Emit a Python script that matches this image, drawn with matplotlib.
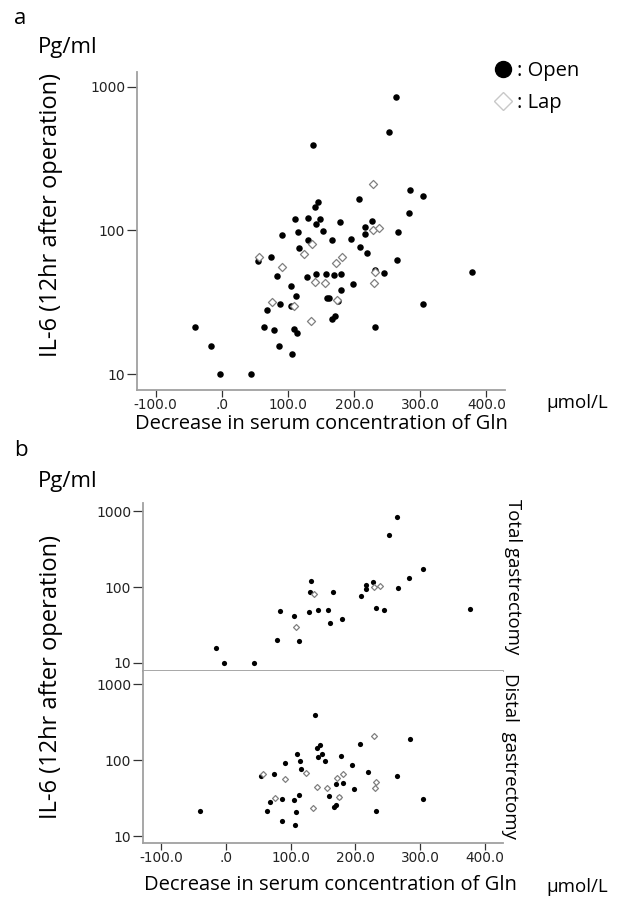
import matplotlib
matplotlib.use("Agg")
import matplotlib.pyplot as plt
from matplotlib.lines import Line2D
from matplotlib.ticker import NullLocator, FixedLocator, FixedFormatter

# ---------------- data (decrease in Gln [umol/L], IL-6 [pg/ml]) ----------------
total_open_x = [-15.5, -2.5, 43.5, 79.5, 84, 105, 113.5, 131, 130, 129, 142, 158,
                161.5, 166, 180, 209, 216.5, 216, 227.7, 231.5, 244.8, 252.2,
                263.6, 265.6, 283.5, 304.6, 377.6]
total_open_y = [15.7, 10, 10, 20.3, 48, 41.2, 19.4, 122, 85.5, 47.6, 49.7, 49.7,
                33.6, 86.5, 38.4, 76.8, 105.3, 94.2, 116.8, 53.2, 50.6, 487,
                852, 97, 131.6, 174.7, 51.7]

distal_open_x = [-40.4, 54.5, 74.2, 90.9, 68, 64.1, 87.4, 86.9, 110.6, 114.6, 116.2,
                 105, 112.6, 108.6, 106.6, 137.9, 140.4, 145.5, 142.4, 149, 153.5,
                 169.7, 180.3, 178.3, 159, 175, 167.2, 170.7, 195, 198, 207.6,
                 219.2, 232.3, 264.6, 284.8, 304]
distal_open_y = [21.2, 61.2, 64.9, 92.8, 28, 21.2, 30.7, 15.6, 120.6, 97.3, 75.7,
                 29.8, 34.7, 20.5, 13.9, 396, 145, 157, 111, 120.6, 98.4,
                 49, 49.6, 113.8, 34, 32.2, 24.2, 25.3, 87.5, 42.2, 165,
                 70.2, 21.4, 62.6, 192.4, 30.7]

total_lap_x = [109, 136, 228.5, 237.7]
total_lap_y = [29.8, 80.4, 101, 104]

distal_lap_x = [57, 91, 75.6, 124.4, 141, 155.7, 135, 172, 181, 174.3, 229, 231.5, 230.2]
distal_lap_y = [65.6, 55.6, 31.7, 68.6, 44.1, 43.1, 23.3, 58.9, 65.3, 32.7, 210, 51.1, 43.1]

x_ticks = [-100, 0, 100, 200, 300, 400]
x_tick_labels = ["-100.0", ".0", "100.0", "200.0", "300.0", "400.0"]
y_ticks = [10, 100, 1000]
y_tick_labels = ["10", "100", "1000"]
panel_labels = ["a", "b"]
group_labels = ["Total gastrectomy", "Distal  gastrectomy"]
legend_labels = [": Open", ": Lap"]

LABEL_FONT = "Open Sans"
TICK_FONT = "DejaVu Sans"
SPINE_C = "#a0a0a0"

W, H = 620, 900
fig = plt.figure(figsize=(W / 100, H / 100), dpi=100)


def px_axes(l, t, r, b):
    return fig.add_axes([l / W, 1 - b / H, (r - l) / W, (b - t) / H])


def style(ax, ylim, show_x=True, bottom_spine=True):
    ax.set_yscale("log")
    ax.set_ylim(*ylim)
    ax.set_xlim(-128, 428)
    ax.yaxis.set_major_locator(FixedLocator(y_ticks))
    ax.yaxis.set_major_formatter(FixedFormatter(y_tick_labels))
    ax.yaxis.set_minor_locator(NullLocator())
    ax.xaxis.set_major_locator(FixedLocator(x_ticks))
    ax.xaxis.set_major_formatter(FixedFormatter(x_tick_labels))
    for s in ("top", "right"):
        ax.spines[s].set_visible(False)
    for s in ("left", "bottom"):
        ax.spines[s].set_color(SPINE_C)
        ax.spines[s].set_linewidth(1.3)
    ax.spines["bottom"].set_visible(bottom_spine)
    ax.tick_params(axis="y", length=7.5, width=0.9, color="#333333",
                   labelsize=10, labelcolor="#222222", pad=1)
    ax.tick_params(axis="x", length=5, width=0.9, color="#333333",
                   labelsize=9.8, labelcolor="#222222", pad=1)
    for lab in ax.get_xticklabels() + ax.get_yticklabels():
        lab.set_fontfamily(TICK_FONT)
    if not show_x:
        ax.tick_params(axis="x", length=0, labelbottom=False)


def draw(ax, ox, oy, lx, ly, s_dot, s_dia):
    ax.scatter(ox, oy, s=s_dot, c="black", marker="o", linewidths=0, zorder=3)
    ax.scatter(lx, ly, s=s_dia, facecolors="white", edgecolors="#808080",
               marker="D", linewidths=0.9, zorder=4)


# ---------------- panel a ----------------
axa = px_axes(137, 72, 505, 390)
style(axa, (7.74, 1271))
draw(axa, total_open_x + distal_open_x, total_open_y + distal_open_y,
     total_lap_x + distal_lap_x, total_lap_y + distal_lap_y, 22, 17)

# ---------------- panel b ----------------
axb1 = px_axes(143, 503, 503, 671)
style(axb1, (7.83, 1292), show_x=False)
draw(axb1, total_open_x, total_open_y, total_lap_x, total_lap_y, 14, 9)

axb2 = px_axes(143, 671, 503, 843)
style(axb2, (8.09, 1497))
draw(axb2, distal_open_x, distal_open_y, distal_lap_x, distal_lap_y, 14, 9)

# ---------------- texts ----------------
def ftext(x, y, s, **kw):
    kw.setdefault("family", LABEL_FONT)
    return fig.text(x / W, 1 - y / H, s, **kw)

ftext(20, 19, panel_labels[0], fontsize=16, ha="center", va="center")
ftext(21, 450, panel_labels[1], fontsize=16, ha="center", va="center")
ftext(38, 48, "Pg/ml", fontsize=16, ha="left", va="center")
ftext(38, 481, "Pg/ml", fontsize=16, ha="left", va="center")
ftext(51, 215, "IL-6 (12hr after operation)", fontsize=17, rotation=90,
      ha="center", va="center")
ftext(51, 677, "IL-6 (12hr after operation)", fontsize=17, rotation=90,
      ha="center", va="center")
ftext(321, 429, "Decrease in serum concentration of Gln", fontsize=14.5,
      ha="center", va="baseline")
ftext(330, 890, "Decrease in serum concentration of Gln", fontsize=14.5,
      ha="center", va="baseline")
ftext(577, 403, "\u00b5mol/L", fontsize=13.5, ha="center", va="center")
ftext(577, 887, "\u00b5mol/L", fontsize=13.5, ha="center", va="center")
ftext(513, 577, group_labels[0], fontsize=13.4, rotation=-90, ha="center", va="center")
ftext(510, 756, group_labels[1], fontsize=13.4, rotation=-90, ha="center", va="center")

# ---------------- legend ----------------
handles = [Line2D([], [], ls="none", marker="o", markersize=11.5,
                  markerfacecolor="black", markeredgecolor="black"),
           Line2D([], [], ls="none", marker="D", markersize=9,
                  markerfacecolor="white", markeredgecolor="#c8c8c8", markeredgewidth=1)]
leg = fig.legend(handles, legend_labels, loc="upper left",
                 bbox_to_anchor=(483 / W, 1 - 51 / H), frameon=False,
                 handlelength=1.0, handletextpad=0.2, labelspacing=0.6,
                 borderpad=0, prop={"family": LABEL_FONT, "size": 14.5})

fig.savefig("out.png", dpi=100, facecolor="white")
